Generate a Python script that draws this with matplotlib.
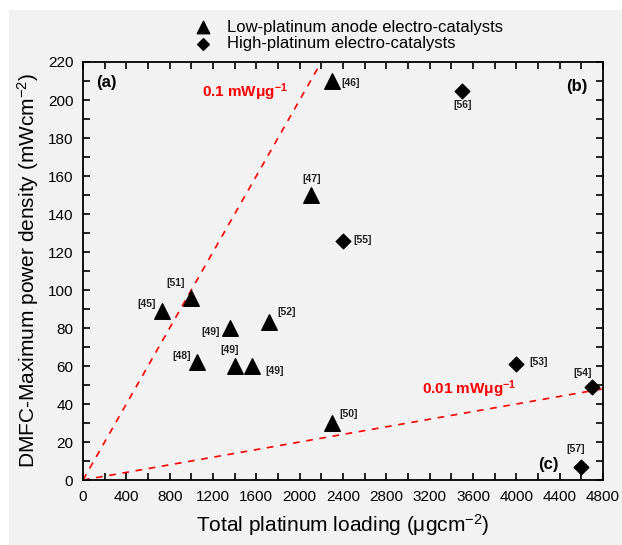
import numpy as np
import matplotlib.pyplot as plt
from matplotlib.patches import Rectangle
from matplotlib.ticker import MultipleLocator

plt.rcParams['font.family'] = ['Liberation Sans', 'DejaVu Sans']
plt.rcParams['mathtext.default'] = 'regular'

# low-platinum anode electro-catalysts (triangles)
low_x = [2300, 2100, 1000, 730, 1360, 1720, 1050, 1400, 1560, 2300]
low_y = [210, 150, 96, 89, 80, 83, 62, 60, 60, 30]
low_refs = ['[46]', '[47]', '[51]', '[45]', '[49]', '[52]', '[48]', '[49]', '[49]', '[50]']

# high-platinum electro-catalysts (diamonds)
high_x = [2400, 3500, 4000, 4700, 4600]
high_y = [126, 205, 61, 49, 7]
high_refs = ['[55]', '[56]', '[53]', '[54]', '[57]']

# label offsets (pixels, y up) and alignment
low_off = [(9, -2, 'left'), (1, 16, 'center'), (-16, 15, 'center'), (-15, 7, 'center'),
           (-20, -4, 'center'), (17, 10, 'center'), (-15, 6, 'center'), (-5, 16, 'center'),
           (23, -5, 'center'), (16, 9, 'center')]
high_off = [(10, 1, 'left'), (0, -14, 'center'), (22, 2, 'center'), (-10, 14, 'center'),
            (-6, 18, 'center')]

slopes = [0.1, 0.01]

bg = '#f2f2f2'
fig = plt.figure(figsize=(6.22, 5.45), dpi=100, facecolor='white')
fig.patches.append(Rectangle((9 / 622, 0), 1, 1 - 10 / 545, transform=fig.transFigure,
                             facecolor=bg, edgecolor='none', zorder=-10))
ax = fig.add_axes([83 / 622, 65 / 545, 520 / 622, 418 / 545])
ax.set_facecolor(bg)

xx = np.array([0, 4800])
for s in slopes:
    ax.plot(xx, s * xx, ls=(0, (4, 4)), color='red', lw=1.2, zorder=1)

l1 = ax.scatter(low_x, low_y, marker='^', s=125, color='black', zorder=3,
                label='Low-platinum anode electro-catalysts')
l2 = ax.scatter(high_x, high_y, marker='D', s=55, color='black', zorder=3,
                label='High-platinum electro-catalysts')

for x, y, r, (dx, dy, ha) in zip(low_x, low_y, low_refs, low_off):
    ax.annotate(r, (x, y), xytext=(dx, dy), textcoords='offset pixels', ha=ha, va='center',
                fontsize=7.5, fontweight='bold', color='#222222')
for x, y, r, (dx, dy, ha) in zip(high_x, high_y, high_refs, high_off):
    ax.annotate(r, (x, y), xytext=(dx, dy), textcoords='offset pixels', ha=ha, va='center',
                fontsize=7.5, fontweight='bold', color='#222222')

ax.text(0.045, 0.952, '(a)', transform=ax.transAxes, ha='center', va='center',
        fontsize=12, fontweight='bold')
ax.text(0.95, 0.942, '(b)', transform=ax.transAxes, ha='center', va='center',
        fontsize=12, fontweight='bold')
ax.text(0.895, 0.036, '(c)', transform=ax.transAxes, ha='center', va='center',
        fontsize=12, fontweight='bold')

ax.text(1100, 204, '0.1 mW\u03bcg$^{-1}$', color='red', fontsize=11, fontweight='bold',
        ha='left', va='center')
ax.text(3130, 48, '0.01 mW\u03bcg$^{-1}$', color='red', fontsize=11, fontweight='bold',
        ha='left', va='center')

ax.set_xlim(0, 4800)
ax.set_ylim(0, 220)
ax.xaxis.set_major_locator(MultipleLocator(400))
ax.xaxis.set_minor_locator(MultipleLocator(200))
ax.yaxis.set_major_locator(MultipleLocator(20))
ax.yaxis.set_minor_locator(MultipleLocator(10))
ax.tick_params(which='both', direction='in', top=True, right=True, labelsize=11,
               width=1.2, length=5, pad=7)
for sp in ax.spines.values():
    sp.set_linewidth(1.3)

ax.set_xlabel('Total platinum loading (\u03bcgcm$^{-2}$)', fontsize=15, labelpad=6)
ax.set_ylabel('DMFC-Maximum power density (mWcm$^{-2}$)', fontsize=15, labelpad=5)

fig.legend(handles=[l1, l2], loc='upper left', bbox_to_anchor=(180 / 622, 1 - 13 / 545),
           frameon=False, fontsize=12, handletextpad=0.4, labelspacing=0.1,
           borderaxespad=0, markerscale=0.8)

fig.savefig('out.png', dpi=100, facecolor=fig.get_facecolor())
